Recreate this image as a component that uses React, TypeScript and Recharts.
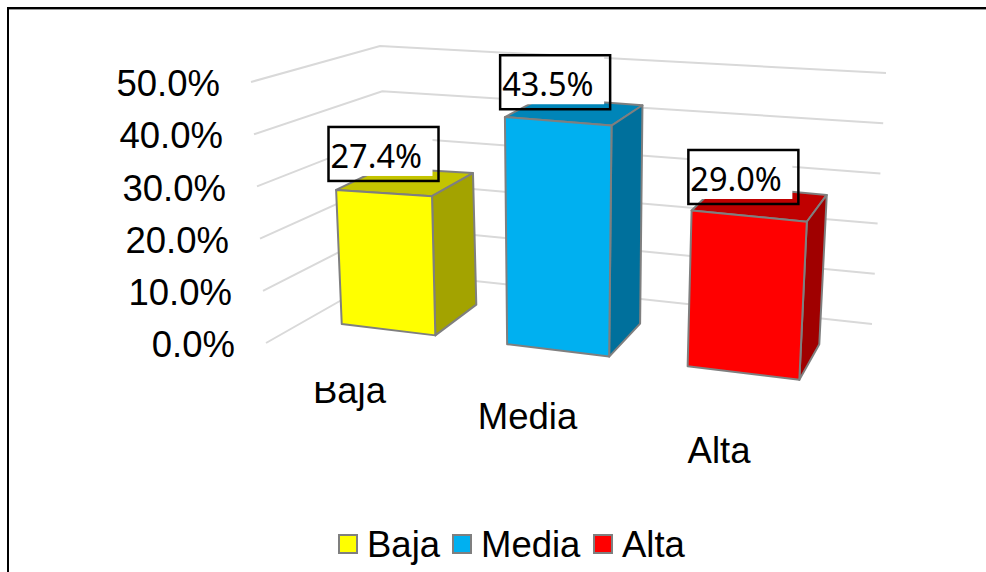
import React from "react";
import { BarChart, Bar, XAxis, YAxis, CartesianGrid, Legend, LabelList } from "recharts";

const categories = ["Baja", "Media", "Alta"];
const values = [27.4, 43.5, 29.0];
const colors = ["#ffff00", "#00b0f0", "#ff0000"];
const topColors = ["#c4c400", "#0085b8", "#c00000"];
const sideColors = ["#a3a300", "#00709c", "#a00000"];
const yTicks = [0, 10, 20, 30, 40, 50];

const chartData = categories.map((name, i) => ({ name, value: values[i] }));

const PLOT_TOP = 82;
const PLOT_BOTTOM = 343.5;
const FONT = "'Liberation Sans', Arial, sans-serif";
const EDGE = "#7f7f7f";

// how much taller a unit of height gets going left to right in the 3D view
function heightRate(t: number) {
  if (t < -51) return 5.22 + (t + 51) * 0.00186;
  if (t > 51) return 5.31 + (t - 51) * 0.00079;
  return 5.265 + t * 0.00088;
}

// fake Excel's 3D view: flat plot coords -> skewed screen coords
function project(x: number, y: number) {
  const t = x - 557;
  const f = 1 / (1 - 0.00025 * t);
  const sx0 = 557 + t * f;
  const h = ((PLOT_BOTTOM - y) * heightRate(t)) / 5.23;
  const base = 344 + 0.122 * (sx0 - 506);
  return {
    x: sx0 + 0.000195 * (sx0 - 557) * h,
    y: base - h,
    dx: 31 - (sx0 - 608) * 0.0577,
    dy: -33 - (sx0 - 608) * 0.013 + h * 0.055,
  };
}

const pts = (list: number[][]) => list.map((p) => p.join(",")).join(" ");

function Bar3D(props: any) {
  const { x, y, width, height, index } = props;
  const bl = project(x, y + height);
  const br = project(x + width, y + height);
  const tr = project(x + width, y);
  const tl = project(x, y);
  const common = { stroke: EDGE, strokeWidth: 2, strokeLinejoin: "round" as const };
  return (
    <g>
      <polygon
        {...common}
        fill={topColors[index]}
        points={pts([[tl.x, tl.y], [tr.x, tr.y], [tr.x + tr.dx, tr.y + tr.dy], [tl.x + tl.dx, tl.y + tl.dy]])}
      />
      <polygon
        {...common}
        fill={sideColors[index]}
        points={pts([[br.x, br.y], [tr.x, tr.y], [tr.x + tr.dx, tr.y + tr.dy], [br.x + br.dx, br.y + br.dy]])}
      />
      <polygon
        {...common}
        fill={colors[index]}
        points={pts([[bl.x, bl.y], [br.x, br.y], [tr.x, tr.y], [tl.x, tl.y]])}
      />
    </g>
  );
}

function ValueBox(props: any) {
  const box = props.viewBox || props;
  const c = project(box.x + box.width / 2, box.y);
  const left = c.x - 55 - (c.x - 387) * 0.014;
  const top = c.y - 12 - 54;
  return (
    <g>
      {/* the white patch is a bit smaller than the frame, like in the original */}
      <rect x={left} y={top} width={104} height={49} fill="#fff" />
      <rect x={left} y={top} width={110} height={54} fill="none" stroke="#000" strokeWidth={2.5} />
      <text x={left + 2} y={top + 41} fontFamily="'Noto Sans', sans-serif" fontSize={32.5} fill="#000">
        {Number(props.value).toFixed(1)}%
      </text>
    </g>
  );
}

// walls: left edge, back corner, right edge
function GridLine(props: any) {
  const t = (PLOT_BOTTOM - props.y1) / (PLOT_BOTTOM - PLOT_TOP);
  return (
    <polyline
      key={props.key}
      fill="none"
      stroke="#d9d9d9"
      strokeWidth={2}
      points={pts([
        [266 - 15 * t, 343 - 261 * t],
        [391 - 11 * t, 272 - 226 * t],
        [872 + 14 * t, 324 - 251 * t],
      ])}
    />
  );
}

function ValueTick(props: any) {
  const { y, payload } = props;
  return (
    <text
      x={235 - (PLOT_BOTTOM - y) * 0.0574}
      y={y + (payload.value === 0 ? 13 : 14)}
      textAnchor="end"
      fontFamily={FONT}
      fontSize={36.5}
      fill="#000"
    >
      {payload.value.toFixed(1)}%
    </text>
  );
}

function CategoryTick(props: any) {
  const { x, payload } = props;
  const d = x - 557;
  const dx = 1.044 * d + 0.000215 * d * d;
  return (
    <g>
      <clipPath id={`tick-clip-${payload.index}`}>
        <rect x={0} y={382} width={986} height={190} />
      </clipPath>
      <text
        x={527.5 + dx}
        y={429 + dx * 0.16 + dx * dx * 0.00008}
        textAnchor="middle"
        fontFamily={FONT}
        fontSize={36.5}
        fill="#000"
        clipPath={`url(#tick-clip-${payload.index})`}
      >
        {payload.value}
      </text>
    </g>
  );
}

function LegendRow() {
  const lefts = [338, 452, 593];
  return (
    <div style={{ position: "relative", width: 986, height: 46, fontFamily: FONT, fontSize: 36.5, lineHeight: "46px", color: "#000" }}>
      {categories.map((name, i) => (
        <React.Fragment key={name}>
          <div
            style={{
              position: "absolute",
              left: lefts[i],
              top: 12,
              width: 16,
              height: 16,
              background: colors[i],
              border: `2px solid ${EDGE}`,
            }}
          />
          <div style={{ position: "absolute", left: lefts[i] + 29, top: 0 }}>{name}</div>
        </React.Fragment>
      ))}
    </div>
  );
}

export default function App() {
  return (
    <div style={{ position: "absolute", left: 0, top: 0, width: 986, height: 572, background: "#fff", overflow: "hidden" }}>
      <div style={{ position: "absolute", left: 7, top: 7, right: 0, height: 2, background: "#000" }} />
      <div style={{ position: "absolute", left: 7, top: 9, right: 0, height: 1, background: "#999" }} />
      <div style={{ position: "absolute", left: 7, top: 7, bottom: 0, width: 2, background: "#000" }} />
      <BarChart
        width={986}
        height={572}
        data={chartData}
        barSize={102}
        margin={{ top: PLOT_TOP, right: 163.5, bottom: 0, left: 0 }}
        style={{ position: "absolute", left: 0, top: 0 }}
      >
        <CartesianGrid vertical={false} horizontal={GridLine as any} />
        <XAxis dataKey="name" height={228.5} axisLine={false} tickLine={false} interval={0} tick={CategoryTick as any} />
        <YAxis width={291.5} domain={[0, 50]} ticks={yTicks} axisLine={false} tickLine={false} tick={ValueTick as any} />
        <Legend
          layout="horizontal"
          verticalAlign="middle"
          content={() => <LegendRow />}
          wrapperStyle={{ top: 522, left: 0, width: 986, height: 46 }}
        />
        <Bar dataKey="value" isAnimationActive={false} shape={Bar3D as any}>
          <LabelList dataKey="value" content={ValueBox as any} />
        </Bar>
      </BarChart>
    </div>
  );
}
